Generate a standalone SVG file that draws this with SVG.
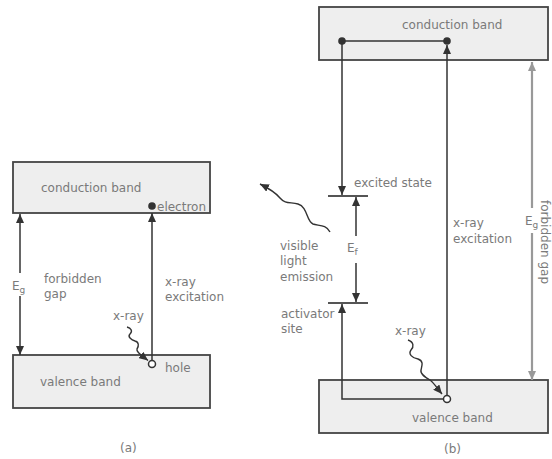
<svg xmlns="http://www.w3.org/2000/svg" width="552" height="459" viewBox="0 0 552 459">
<style>
.band{fill:#eeeeee;stroke:#444;stroke-width:1.8}
.t{font-family:"DejaVu Sans",sans-serif;font-size:12px;fill:#7a7a7a}
.ln{fill:none;stroke:#333;stroke-width:1.5}
.lg{fill:none;stroke:#999;stroke-width:2.2}
.bar{stroke:#555;stroke-width:2}
.wv{fill:none;stroke:#333;stroke-width:1.4}
.dot{fill:#333}
.hole{fill:#fff;stroke:#333;stroke-width:1.5}
</style>
<defs>
<marker id="ah" markerUnits="userSpaceOnUse" markerWidth="9" markerHeight="8" refX="9" refY="4" orient="auto"><path d="M0,0 L9,4 L0,8 z" fill="#333"/></marker>
<marker id="ahg" markerUnits="userSpaceOnUse" markerWidth="9" markerHeight="8" refX="9" refY="4" orient="auto"><path d="M0,0 L9,4 L0,8 z" fill="#999"/></marker>
</defs>
<rect width="552" height="459" fill="#fff"/>

<!-- diagram (a) -->
<g id="a-conduction"><rect class="band" x="13" y="162" width="197" height="51"/><text class="t" x="41" y="192">conduction band</text></g>
<g id="a-valence"><rect class="band" x="13" y="355" width="197" height="53"/><text class="t" x="40" y="386">valence band</text></g>
<g id="a-electron"><circle class="dot" cx="152" cy="206" r="3.8"/><text class="t" x="157" y="211">electron</text></g>
<g id="a-hole"><circle class="hole" cx="152" cy="364" r="3.5"/><text class="t" x="165" y="372">hole</text></g>
<g id="a-labels">
<text class="t" x="12" y="290">E<tspan font-size="9" dy="3">g</tspan></text>
<text class="t" x="44" y="283">forbidden</text>
<text class="t" x="44" y="298">gap</text>
<text class="t" x="165" y="286">x-ray</text>
<text class="t" x="165" y="301">excitation</text>
<text class="t" x="113" y="320">x-ray</text>
<text class="t" x="120" y="452">(a)</text>
</g>

<!-- diagram (b) -->
<g id="b-conduction"><rect class="band" x="319" y="7" width="229" height="53"/><text class="t" x="402" y="29">conduction band</text></g>
<g id="b-valence"><rect class="band" x="319" y="380" width="229" height="53"/><text class="t" x="412" y="422">valence band</text></g>
<g id="b-excited"><line class="bar" x1="328" y1="196" x2="368" y2="196"/><text class="t" x="354" y="187">excited state</text></g>
<g id="b-activator"><line class="bar" x1="328" y1="303" x2="368" y2="303"/><text class="t" x="281" y="318">activator</text><text class="t" x="281" y="333">site</text></g>
<g id="b-electrons"><circle class="dot" cx="342" cy="41" r="3.8"/><circle class="dot" cx="447" cy="41" r="3.8"/></g>
<g id="b-hole"><circle class="hole" cx="447" cy="399" r="3.5"/></g>
<g id="b-labels">
<text class="t" x="453" y="227">x-ray</text>
<text class="t" x="453" y="243">excitation</text>
<text class="t" x="525" y="225">E<tspan font-size="9" dy="3">g</tspan></text>
<text class="t" x="347" y="252">E<tspan font-size="9" dy="3">f</tspan></text>
<text class="t" x="280" y="250">visible</text>
<text class="t" x="280" y="265">light</text>
<text class="t" x="280" y="281">emission</text>
<text class="t" x="395" y="335">x-ray</text>
<text class="t" x="444" y="453">(b)</text>
<text class="t" font-size="8" fill="#aaa" transform="translate(541,200) rotate(90)">forbidden gap</text>
</g>

<g id="connectors">
<!-- (a) -->
<line class="ln" x1="20" y1="273" x2="20" y2="214" marker-end="url(#ah)"/>
<line class="ln" x1="20" y1="296" x2="20" y2="355" marker-end="url(#ah)"/>
<line class="ln" x1="152" y1="360.5" x2="152" y2="213" marker-end="url(#ah)"/>
<path class="wv" d="M127,327 C131,328 133,331 130,334 C127,337 132,340 135,341 C139,342 139,346 137,349 C136,352 141,355 148,360.5" marker-end="url(#ah)"/>
<!-- (b) -->
<line class="ln" x1="342" y1="41" x2="447" y2="41"/>
<line class="ln" x1="342" y1="41" x2="342" y2="195" marker-end="url(#ah)"/>
<line class="ln" x1="447" y1="395.5" x2="447" y2="45" marker-end="url(#ah)"/>
<line class="ln" x1="356" y1="236" x2="356" y2="197" marker-end="url(#ah)"/>
<line class="ln" x1="356" y1="263" x2="356" y2="302" marker-end="url(#ah)"/>
<polyline class="ln" points="443.5,399 342,399 342,304" marker-end="url(#ah)"/>
<line class="lg" x1="532" y1="208" x2="532" y2="62" marker-end="url(#ahg)"/>
<line class="lg" x1="532" y1="233" x2="532" y2="380" marker-end="url(#ahg)"/>
<path class="wv" d="M408,340 C414,342 414,347 411,350 C408,354 412,358 418,359 C424,361 422,366 421,370 C420,374 425,377 430,380 C434,383 437,388 442,394" marker-end="url(#ah)"/>
<path class="wv" d="M330,232 C326,224 318,226 313,224 C306,221 308,207 298,204 C290,202 285,204 280,198 C276,193 272,190 260,184" marker-end="url(#ah)"/>
</g>
</svg>
